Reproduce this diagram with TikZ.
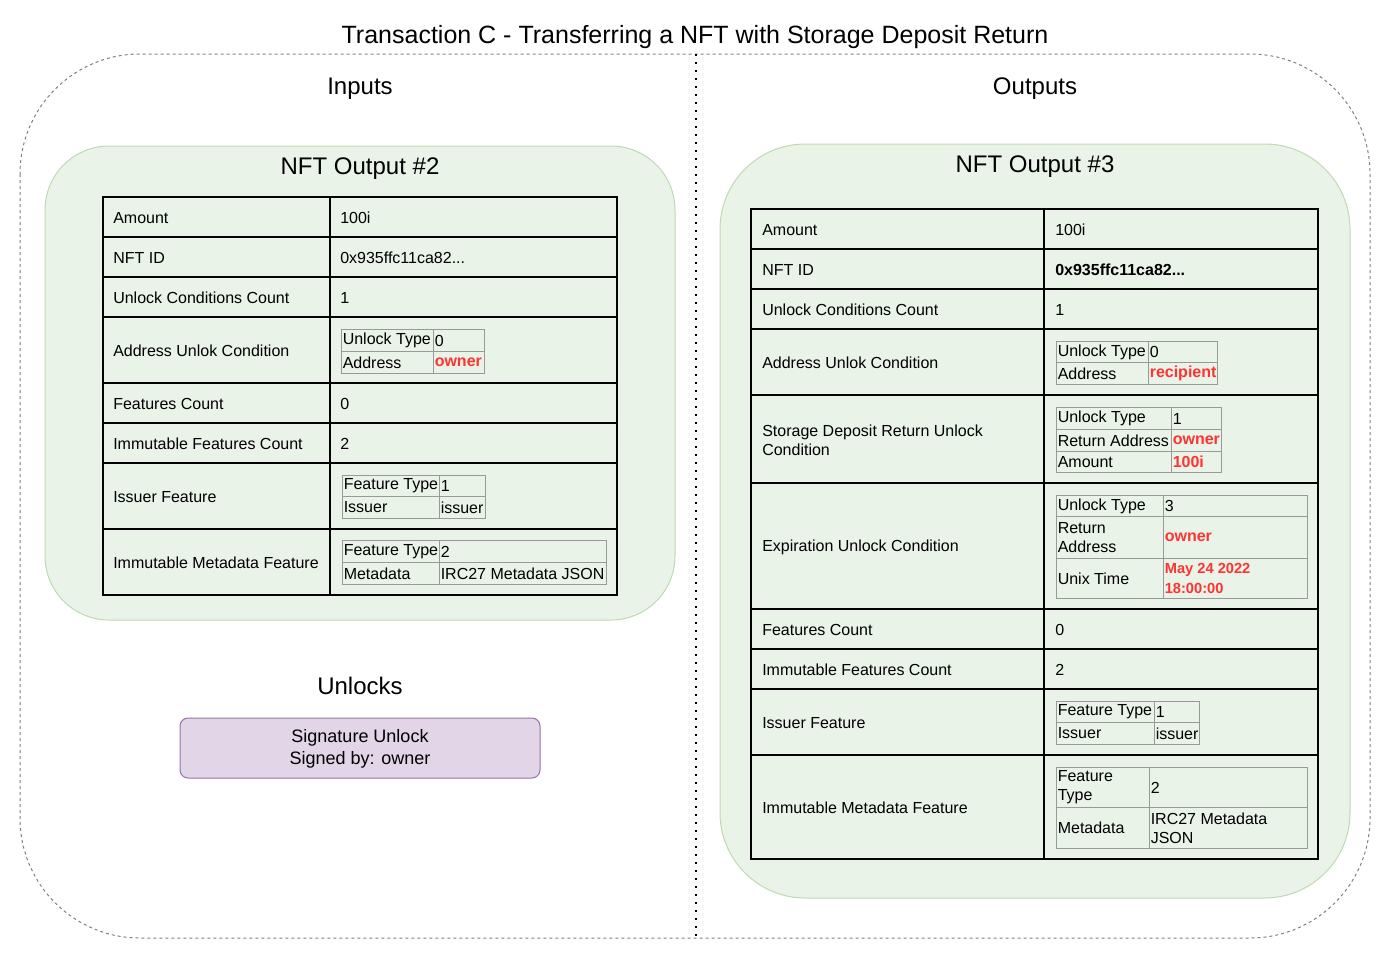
\documentclass[tikz,border=0pt]{standalone}
\usepackage{fontspec}
\setmainfont{Liberation Sans}
\definecolor{gfill}{HTML}{E9F3E8}
\definecolor{gdraw}{HTML}{C0D9B2}
\definecolor{pfill}{HTML}{E1D5E7}
\definecolor{pdraw}{HTML}{9673A6}
\definecolor{subgray}{HTML}{999999}
\definecolor{redv}{HTML}{FF3333}
\definecolor{outergray}{HTML}{808080}
\newcounter{cellno}
\tikzset{
  outerbox/.style={draw=outergray, line width=0.75pt, dash pattern=on 2.25pt off 2.25pt, rounded corners=90pt},
  divider/.style={draw=black, line width=1.5pt, dash pattern=on 1.5pt off 4.5pt},
  greenbox/.style={fill=gfill, draw=gdraw, line width=0.75pt},
  tbl/.style={draw=black, line width=0.8pt},
  sub/.style={draw=subgray, line width=0.75pt},
  heading/.style={inner sep=0pt, font=\fontsize{18}{21.6}\selectfont},
  lbl/.style={anchor=west, inner sep=0pt, align=left, font=\fontsize{12}{14.4}\selectfont},
  stxt/.style={anchor=west, inner sep=0pt, align=left, font=\fontsize{12}{14.4}\selectfont},
  redtxt/.style={text=redv, font=\fontsize{12}{14.4}\selectfont\bfseries},
  redsmall/.style={text=redv, font=\fontsize{11}{14.4}\selectfont\bfseries},
  unlockbox/.style={fill=pfill, draw=pdraw, line width=0.75pt, rounded corners=6pt},
  unlocktxt/.style={inner sep=0pt, align=center, font=\fontsize{13.5}{16.5}\selectfont}
}
% subtable cell: x1 y1 x2 y2 options text
\newcommand\subcell[6]{%
  \draw[sub] (#1,#2) rectangle (#3,#4);
  \stepcounter{cellno}%
  \node[stxt,#5] (cell\arabic{cellno}) at ({#1+1.5},{(#2+#4)/2+0.5}) {#6};%
}
\begin{document}
\begin{tikzpicture}[x=0.75pt,y=-0.75pt]
\useasboundingbox (0,0) rectangle (1391,961);

% outer frame and divider
\draw[outerbox] (20,54) rectangle (1370,938);
\coordinate (divtop) at (696,54);
\coordinate (divbot) at (696,938);
\draw[divider] (divtop) -- (divbot);

% headings
\node[heading, font=\fontsize{18.75}{22}\selectfont] (title) at (695,37) {Transaction C - Transferring a NFT with Storage Deposit Return};
\node[heading] (inputs) at (360,89) {Inputs};
\node[heading] (outputs) at (1035,89) {Outputs};

% green boxes
\draw[greenbox, rounded corners=48pt] (45,146) rectangle (675,620);
\draw[greenbox, rounded corners=64pt] (720,144) rectangle (1350,898);
\node[heading] (nft2) at (360,169) {NFT Output \#2};
\node[heading] (nft3) at (1035,167) {NFT Output \#3};

% ---------- left table ----------
\draw[tbl] (103,197) rectangle (617,595);
\draw[tbl] (330,197) -- (330,595);
\foreach \y in {237,277,317,383,423,463,529} \draw[tbl] (103,\y) -- (617,\y);

\node[lbl] (la1) at (113,218) {Amount};
\node[lbl] (la2) at (113,258) {NFT ID};
\node[lbl] (la3) at (113,298) {Unlock Conditions Count};
\node[lbl] (la4) at (113,351) {Address Unlok Condition};
\node[lbl] (la5) at (113,404) {Features Count};
\node[lbl] (la6) at (113,444) {Immutable Features Count};
\node[lbl] (la7) at (113,497) {Issuer Feature};
\node[lbl] (la8) at (113,563) {Immutable Metadata Feature};

\node[lbl] (lv1) at (340,218) {100i};
\node[lbl] (lv2) at (340,258) {0x935ffc11ca82...};
\node[lbl] (lv3) at (340,298) {1};
\node[lbl] (lv5) at (340,404) {0};
\node[lbl] (lv6) at (340,444) {2};

\subcell{341}{329}{433}{351}{}{Unlock Type}
\subcell{433}{329}{484}{351}{}{0}
\subcell{341}{351}{433}{373}{}{Address}
\subcell{433}{351}{484}{373}{redtxt}{owner}

\subcell{342}{475}{439}{496}{}{Feature Type}
\subcell{439}{475}{485}{496}{}{1}
\subcell{342}{496}{439}{518}{}{Issuer}
\subcell{439}{496}{485}{518}{}{issuer}

\subcell{342}{540}{439}{562}{}{Feature Type}
\subcell{439}{540}{606}{562}{}{2}
\subcell{342}{562}{439}{584}{}{Metadata}
\subcell{439}{562}{606}{584}{}{IRC27 Metadata JSON}

% ---------- unlocks ----------
\node[heading] (unlocks) at (360,686) {Unlocks};
\draw[unlockbox] (180,718) rectangle (540,778);
\node[unlocktxt] (sig) at (360,749) {Signature Unlock\\Signed by: owner};

% ---------- right table ----------
\draw[tbl] (751,209) rectangle (1318,859);
\draw[tbl] (1044,209) -- (1044,859);
\foreach \y in {249,289,329,395,483,609,649,689,755} \draw[tbl] (751,\y) -- (1318,\y);

\node[lbl] (ra1) at (762,230) {Amount};
\node[lbl] (ra2) at (762,270) {NFT ID};
\node[lbl] (ra3) at (762,310) {Unlock Conditions Count};
\node[lbl] (ra4) at (762,363) {Address Unlok Condition};
\node[lbl] (ra5) at (762,440) {Storage Deposit Return Unlock\\Condition};
\node[lbl] (ra6) at (762,547) {Expiration Unlock Condition};
\node[lbl] (ra7) at (762,630) {Features Count};
\node[lbl] (ra8) at (762,670) {Immutable Features Count};
\node[lbl] (ra9) at (762,723) {Issuer Feature};
\node[lbl] (ra10) at (762,808) {Immutable Metadata Feature};

\node[lbl] (rv1) at (1055,230) {100i};
\node[lbl, font=\fontsize{12}{14.4}\selectfont\bfseries] (rv2) at (1055,270) {0x935ffc11ca82...};
\node[lbl] (rv3) at (1055,310) {1};
\node[lbl] (rv7) at (1055,630) {0};
\node[lbl] (rv8) at (1055,670) {2};

\subcell{1056}{341}{1148}{362}{}{Unlock Type}
\subcell{1148}{341}{1217}{362}{}{0}
\subcell{1056}{362}{1148}{384}{}{Address}
\subcell{1148}{362}{1217}{384}{redtxt}{recipient}

\subcell{1056}{407}{1171}{429}{}{Unlock Type}
\subcell{1171}{407}{1221}{429}{}{1}
\subcell{1056}{429}{1171}{451}{}{Return Address}
\subcell{1171}{429}{1221}{451}{redtxt}{owner}
\subcell{1056}{451}{1171}{472}{}{Amount}
\subcell{1171}{451}{1221}{472}{redtxt}{100i}

\subcell{1056}{495}{1163}{516}{}{Unlock Type}
\subcell{1163}{495}{1307}{516}{}{3}
\subcell{1056}{516}{1163}{558}{}{Return\\Address}
\subcell{1163}{516}{1307}{558}{redtxt}{owner}
\subcell{1056}{558}{1163}{598}{}{Unix Time}
\subcell{1163}{558}{1307}{598}{redsmall}{May 24 2022\\18:00:00}

\subcell{1056}{701}{1154}{722}{}{Feature Type}
\subcell{1154}{701}{1199}{722}{}{1}
\subcell{1056}{722}{1154}{744}{}{Issuer}
\subcell{1154}{722}{1199}{744}{}{issuer}

\subcell{1056}{767}{1149}{807}{}{Feature\\Type}
\subcell{1149}{767}{1307}{807}{}{2}
\subcell{1056}{807}{1149}{848}{}{Metadata}
\subcell{1149}{807}{1307}{848}{}{IRC27 Metadata\\JSON}

\end{tikzpicture}
\end{document}
